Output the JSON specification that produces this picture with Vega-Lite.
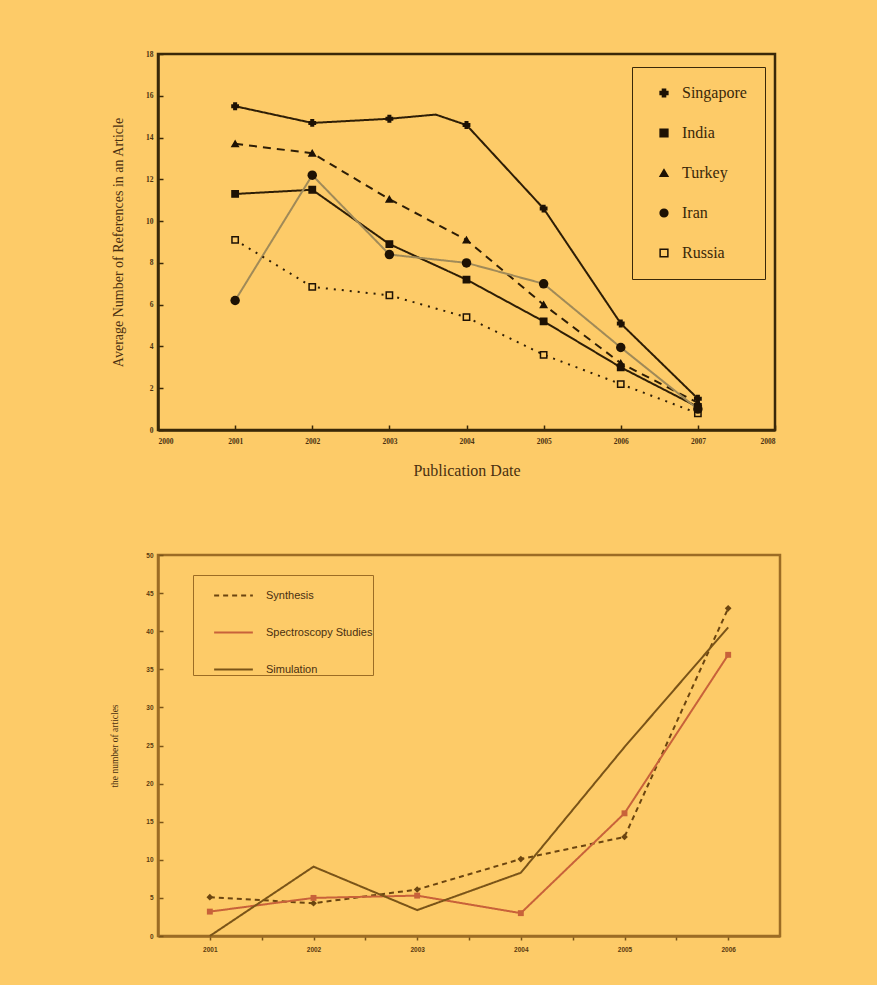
{
  "$schema": "https://vega.github.io/schema/vega-lite/v6.json",
  "background": "#FDCB68",
  "padding": {"left": 108, "top": 48, "right": 95, "bottom": 40},
  "config": {"font": "Liberation Serif"},
  "spacing": 70,
  "resolve": {
    "scale": {"color": "independent", "strokeDash": "independent"}
  },
  "datasets": {
    "refs": [
      {"country": "Singapore", "year": 2001, "refs": 15.5},
      {"country": "Singapore", "year": 2002, "refs": 14.7},
      {"country": "Singapore", "year": 2003, "refs": 14.9},
      {"country": "Singapore", "year": 2003.6, "refs": 15.1},
      {"country": "Singapore", "year": 2004, "refs": 14.6},
      {"country": "Singapore", "year": 2005, "refs": 10.6},
      {"country": "Singapore", "year": 2006, "refs": 5.1},
      {"country": "Singapore", "year": 2007, "refs": 1.5},
      {"country": "India", "year": 2001, "refs": 11.3},
      {"country": "India", "year": 2002, "refs": 11.5},
      {"country": "India", "year": 2003, "refs": 8.9},
      {"country": "India", "year": 2004, "refs": 7.2},
      {"country": "India", "year": 2005, "refs": 5.2},
      {"country": "India", "year": 2006, "refs": 3.0},
      {"country": "India", "year": 2007, "refs": 1.1},
      {"country": "Turkey", "year": 2001, "refs": 13.7},
      {"country": "Turkey", "year": 2002, "refs": 13.25},
      {"country": "Turkey", "year": 2003, "refs": 11.05},
      {"country": "Turkey", "year": 2004, "refs": 9.1},
      {"country": "Turkey", "year": 2005, "refs": 6.0},
      {"country": "Turkey", "year": 2006, "refs": 3.2},
      {"country": "Turkey", "year": 2007, "refs": 1.3},
      {"country": "Iran", "year": 2001, "refs": 6.2},
      {"country": "Iran", "year": 2002, "refs": 12.2},
      {"country": "Iran", "year": 2003, "refs": 8.4},
      {"country": "Iran", "year": 2004, "refs": 8.0},
      {"country": "Iran", "year": 2005, "refs": 7.0},
      {"country": "Iran", "year": 2006, "refs": 3.95},
      {"country": "Iran", "year": 2007, "refs": 1.0},
      {"country": "Russia", "year": 2001, "refs": 9.1},
      {"country": "Russia", "year": 2002, "refs": 6.85},
      {"country": "Russia", "year": 2003, "refs": 6.45},
      {"country": "Russia", "year": 2004, "refs": 5.4},
      {"country": "Russia", "year": 2005, "refs": 3.6},
      {"country": "Russia", "year": 2006, "refs": 2.2},
      {"country": "Russia", "year": 2007, "refs": 0.8}
    ],
    "arts": [
      {"series": "Synthesis", "year": 2001, "n": 5.1},
      {"series": "Synthesis", "year": 2002, "n": 4.3},
      {"series": "Synthesis", "year": 2003, "n": 6.1},
      {"series": "Synthesis", "year": 2004, "n": 10.1},
      {"series": "Synthesis", "year": 2005, "n": 13.0},
      {"series": "Synthesis", "year": 2006, "n": 43.0},
      {"series": "Spectroscopy Studies", "year": 2001, "n": 3.2},
      {"series": "Spectroscopy Studies", "year": 2002, "n": 5.0},
      {"series": "Spectroscopy Studies", "year": 2003, "n": 5.3},
      {"series": "Spectroscopy Studies", "year": 2004, "n": 3.0},
      {"series": "Spectroscopy Studies", "year": 2005, "n": 16.1},
      {"series": "Spectroscopy Studies", "year": 2006, "n": 36.9},
      {"series": "Simulation", "year": 2001, "n": 0},
      {"series": "Simulation", "year": 2002, "n": 9.1},
      {"series": "Simulation", "year": 2003, "n": 3.4},
      {"series": "Simulation", "year": 2004, "n": 8.3},
      {"series": "Simulation", "year": 2005, "n": 24.8},
      {"series": "Simulation", "year": 2006, "n": 40.5}
    ]
  },
  "vconcat": [
    {
      "width": 617,
      "height": 376,
      "data": {"name": "refs"},
      "view": {"stroke": "#3a2808", "strokeWidth": 2.5},
      "encoding": {
        "x": {
          "field": "year", "type": "quantitative",
          "scale": {"domain": [2000, 2008], "nice": false, "zero": false},
          "axis": {
            "values": [2000, 2001, 2002, 2003, 2004, 2005, 2006, 2007, 2008],
            "format": "d", "grid": false,
            "domainColor": "#3a2808", "domainWidth": 2.5,
            "tickColor": "#3a2808", "tickSize": -5, "tickWidth": 1.5,
            "labelPadding": 12, "labelFontSize": 7.5, "labelColor": "#4a3010", "labelFontWeight": "bold",
            "title": "Publication Date", "titleFontSize": 16, "titleFontWeight": "normal",
            "titleColor": "#4a3010", "titlePadding": 18
          }
        },
        "y": {
          "field": "refs", "type": "quantitative",
          "scale": {"domain": [0, 18], "nice": false},
          "axis": {
            "values": [0, 2, 4, 6, 8, 10, 12, 14, 16, 18],
            "grid": false,
            "domainColor": "#3a2808", "domainWidth": 2.5,
            "tickColor": "#3a2808", "tickSize": -5, "tickWidth": 1.5,
            "labelPadding": 10, "labelFontSize": 7.5, "labelColor": "#4a3010", "labelFontWeight": "bold",
            "title": "Average Number of References in an Article", "titleFontSize": 14,
            "titleFontWeight": "normal", "titleColor": "#4a3010", "titlePadding": 20
          }
        }
      },
      "layer": [
        {
          "mark": {"type": "line", "strokeWidth": 2},
          "encoding": {
            "color": {
              "field": "country", "type": "nominal",
              "scale": {"domain": ["Russia", "Iran", "Turkey", "India", "Singapore"],
                        "range": ["#2e1e06", "#a08a58", "#2e1e06", "#2e1e06", "#2e1e06"]},
              "legend": null
            },
            "strokeDash": {
              "field": "country", "type": "nominal",
              "scale": {"domain": ["Russia", "Iran", "Turkey", "India", "Singapore"],
                        "range": [[2, 6], [1, 0], [8, 6], [1, 0], [1, 0]]},
              "legend": null
            }
          }
        },
        {
          "transform": [{"filter": "datum.year == floor(datum.year)"}],
          "mark": {"type": "point", "filled": false, "size": 40, "strokeWidth": 1.5, "opacity": 1},
          "encoding": {
            "shape": {
              "field": "country", "type": "nominal",
              "scale": {"domain": ["Singapore", "India", "Turkey", "Iran", "Russia"],
                        "range": ["cross", "square", "triangle-up", "circle", "square"]},
              "legend": {
                "title": null, "orient": "none", "legendX": 474, "legendY": 13,
                "strokeColor": "#3a2808", "padding": 18, "rowPadding": 24,
                "labelFontSize": 16, "labelFont": "Liberation Serif", "labelColor": "#3a2808",
                "symbolSize": 60, "labelOffset": 10, "symbolOffset": 6, "symbolStrokeWidth": 1.5
              }
            },
            "fill": {
              "field": "country", "type": "nominal",
              "scale": {"domain": ["Singapore", "India", "Turkey", "Iran", "Russia"],
                        "range": ["#1e1204", "#1e1204", "#1e1204", "#1e1204", "#FDCB68"]},
              "legend": {
                "title": null, "orient": "none", "legendX": 474, "legendY": 13,
                "strokeColor": "#3a2808", "padding": 18, "rowPadding": 24,
                "labelFontSize": 16, "labelFont": "Liberation Serif", "labelColor": "#3a2808",
                "symbolSize": 60, "labelOffset": 10, "symbolOffset": 6, "symbolStrokeWidth": 1.5
              }
            },
            "stroke": {
              "field": "country", "type": "nominal",
              "scale": {"domain": ["Singapore", "India", "Turkey", "Iran", "Russia"],
                        "range": ["#1e1204", "#1e1204", "#1e1204", "#1e1204", "#1e1204"]},
              "legend": {
                "title": null, "orient": "none", "legendX": 474, "legendY": 13,
                "strokeColor": "#3a2808", "padding": 18, "rowPadding": 24,
                "labelFontSize": 16, "labelFont": "Liberation Serif", "labelColor": "#3a2808",
                "symbolSize": 60, "labelOffset": 10, "symbolOffset": 6, "symbolStrokeWidth": 1.5
              }
            }
          }
        },
        {
          "transform": [{"filter": "datum.country == 'Iran'"}],
          "mark": {"type": "point", "shape": "circle", "filled": true, "size": 90, "color": "#1e1204", "opacity": 1}
        }
      ]
    },
    {
      "width": 622,
      "height": 381,
      "data": {"name": "arts"},
      "view": {"stroke": "#9c6c24", "strokeWidth": 2.5},
      "encoding": {
        "x": {
          "field": "year", "type": "quantitative",
          "scale": {"domain": [2000.5, 2006.5], "nice": false, "zero": false},
          "axis": {
            "values": [2001, 2001.5, 2002, 2002.5, 2003, 2003.5, 2004, 2004.5, 2005, 2005.5, 2006],
            "labelExpr": "datum.value % 1 == 0 ? format(datum.value, 'd') : ''",
            "grid": false,
            "domainColor": "#9c6c24", "domainWidth": 2.5,
            "tickColor": "#7a5418", "tickSize": 4, "tickWidth": 1.5,
            "labelPadding": 6, "labelFontSize": 6.5, "labelColor": "#5a3a10", "labelFontWeight": "bold",
            "labelFont": "Liberation Sans",
            "title": null
          }
        },
        "y": {
          "field": "n", "type": "quantitative",
          "scale": {"domain": [0, 50], "nice": false},
          "axis": {
            "values": [0, 5, 10, 15, 20, 25, 30, 35, 40, 45, 50],
            "grid": false,
            "domainColor": "#9c6c24", "domainWidth": 2.5,
            "tickColor": "#7a5418", "tickSize": -5, "tickWidth": 1.5,
            "labelPadding": 10, "labelFontSize": 6.5, "labelColor": "#5a3a10", "labelFontWeight": "bold",
            "labelFont": "Liberation Sans",
            "title": "the number of articles", "titleFontSize": 9.5, "titleFontWeight": "normal",
            "titleColor": "#4a3010", "titlePadding": 26
          }
        }
      },
      "layer": [
        {
          "mark": {"type": "line", "strokeWidth": 2},
          "encoding": {
            "color": {
              "field": "series", "type": "nominal",
              "scale": {"domain": ["Synthesis", "Spectroscopy Studies", "Simulation"],
                        "range": ["#6b4510", "#c8623a", "#7a5418"]},
              "legend": {
                "title": null, "orient": "none", "legendX": 35, "legendY": 20,
                "strokeColor": "#9c6c24", "padding": 0, "rowPadding": 11,
                "labelFontSize": 11, "labelFont": "Liberation Sans", "labelColor": "#4a3010",
                "symbolType": "stroke", "symbolSize": 1500, "symbolStrokeWidth": 2,
                "labelOffset": 12, "symbolOffset": 20
              }
            },
            "strokeDash": {
              "field": "series", "type": "nominal",
              "scale": {"domain": ["Synthesis", "Spectroscopy Studies", "Simulation"],
                        "range": [[5, 4], [1, 0], [1, 0]]},
              "legend": {
                "title": null, "orient": "none", "legendX": 35, "legendY": 20,
                "strokeColor": "#9c6c24", "padding": 0, "rowPadding": 11,
                "labelFontSize": 11, "labelFont": "Liberation Sans", "labelColor": "#4a3010",
                "symbolType": "stroke", "symbolSize": 1500, "symbolStrokeWidth": 2,
                "labelOffset": 12, "symbolOffset": 20
              }
            }
          }
        },
        {
          "transform": [{"filter": "datum.series == 'Synthesis'"}],
          "mark": {"type": "point", "shape": "diamond", "filled": true, "size": 45, "color": "#6b4510", "opacity": 1}
        },
        {
          "transform": [{"filter": "datum.series == 'Spectroscopy Studies'"}],
          "mark": {"type": "point", "shape": "square", "filled": true, "size": 35, "color": "#c8623a", "opacity": 1}
        }
      ]
    }
  ]
}
